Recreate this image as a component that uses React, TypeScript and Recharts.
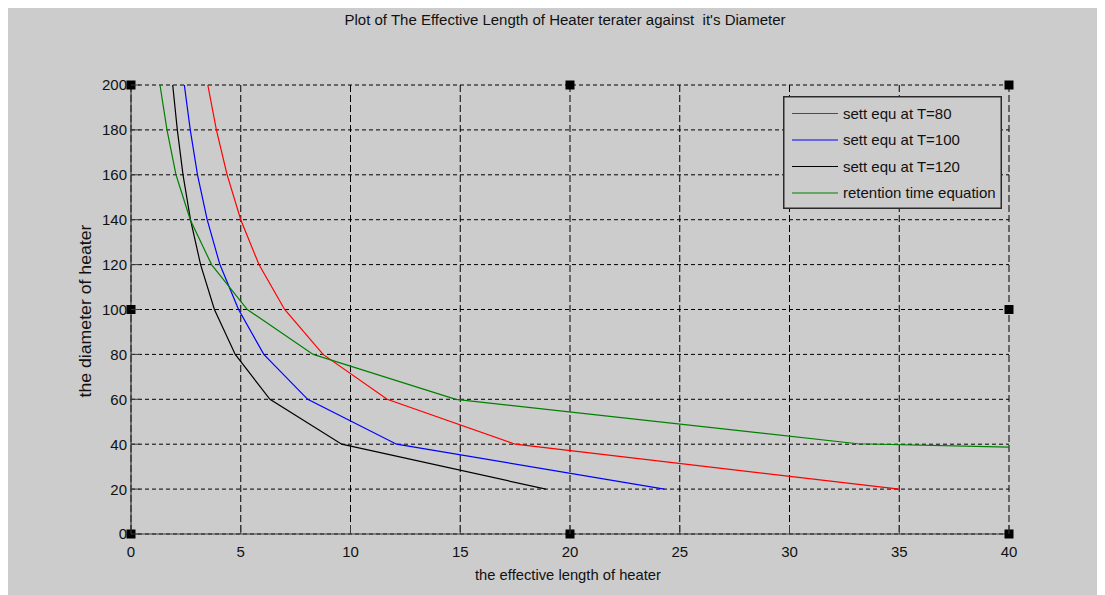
import React from "react";
import {
  ComposedChart,
  Line,
  XAxis,
  YAxis,
  CartesianGrid,
  Legend,
  ReferenceDot,
} from "recharts";

// ---- data ----
const xTicks = [0, 5, 10, 15, 20, 25, 30, 35, 40];
const yTicks = [0, 20, 40, 60, 80, 100, 120, 140, 160, 180, 200];

const diameterSteps = [200, 180, 160, 140, 120, 100, 80, 60, 40, 20];

const sett80Length = [3.5, 3.89, 4.38, 5.0, 5.83, 7.0, 8.75, 11.67, 17.5, 35.0];
const sett100Length = [2.43, 2.7, 3.03, 3.47, 4.05, 4.9, 6.05, 8.05, 12.1, 24.3];
const sett120Length = [1.9, 2.11, 2.37, 2.71, 3.17, 3.8, 4.75, 6.33, 9.6, 18.9];

const retentionLength = [1.32, 1.64, 2.05, 2.7, 3.67, 5.3, 8.3, 14.8, 33.1, 40];
const retentionDiameter = [200, 180, 160, 140, 120, 100, 80, 60, 40.2, 38.7];

const markerX = [0, 20, 40, 0, 40, 0, 20, 40];
const markerY = [0, 0, 0, 100, 100, 200, 200, 200];

const seriesNames = [
  "sett equ at T=80",
  "sett equ at T=100",
  "sett equ at T=120",
  "retention time equation",
];
const seriesColors = ["#ff0000", "#0000ff", "#000000", "#008000"];

const titleText = "Plot of The Effective Length of Heater terater against  it's Diameter";
const xLabelText = "the effective length of heater";
const yLabelText = "the diameter of heater";

const toPoints = (xs: number[], ys: number[]) => xs.map((x, i) => ({ x, y: ys[i] }));

const seriesData = [
  toPoints(sett80Length, diameterSteps),
  toPoints(sett100Length, diameterSteps),
  toPoints(sett120Length, diameterSteps),
  toPoints(retentionLength, retentionDiameter),
];

const markers = markerX.map((x, i) => ({ x, y: markerY[i] }));

const FONT = "'Liberation Sans', Arial, sans-serif";
const TEXT = "#111111";
const AXIS = "#3a3a3a";

const LeftTick = (props: any) => {
  const { x, y, payload } = props;
  const ax = x + 4;
  return (
    <g>
      <line x1={ax} x2={ax + 9} y1={y} y2={y} stroke={AXIS} strokeWidth={1} />
      <text x={x} y={y} dy="0.36em" textAnchor="end" fontSize={15} fontFamily={FONT} fill={TEXT}>
        {payload.value}
      </text>
    </g>
  );
};

const BottomTick = (props: any) => {
  const { x, y, payload } = props;
  const ay = y - 12;
  return (
    <g>
      <line x1={x} x2={x} y1={ay} y2={ay - 9} stroke={AXIS} strokeWidth={1} />
      <text x={x} y={y} dy="0.71em" textAnchor="middle" fontSize={15} fontFamily={FONT} fill={TEXT}>
        {payload.value}
      </text>
    </g>
  );
};

const TopTick = (props: any) => {
  const { x, y } = props;
  return <line x1={x} x2={x} y1={y} y2={y + 9} stroke={AXIS} strokeWidth={1} />;
};

const RightTick = (props: any) => {
  const { x, y } = props;
  return <line x1={x - 9} x2={x} y1={y} y2={y} stroke={AXIS} strokeWidth={1} />;
};

const SquareMarker = (props: any) => {
  const { cx, cy } = props;
  return <rect x={cx - 4.5} y={cy - 4.5} width={9} height={9} fill="#000" />;
};

const LegendBox = (props: any) => {
  const payload = [...(props.payload || [])].sort(
    (a: any, b: any) => seriesNames.indexOf(a.value) - seriesNames.indexOf(b.value)
  );
  return (
    <svg width={219} height={113} style={{ display: "block" }}>
      <rect x={0.75} y={0.75} width={217.5} height={111.5} fill="#cccccc" stroke="#2a2a2a" strokeWidth={1.5} />
      {payload.map((p: any, i: number) => {
        const cy = 17.5 + i * 26.5;
        return (
          <g key={i}>
            <line x1={9} x2={55} y1={cy} y2={cy} stroke={p.color} strokeWidth={1.2} />
            <text x={60} y={cy} dy="0.36em" fontSize={15} fontFamily={FONT} fill={TEXT}>
              {p.value}
            </text>
          </g>
        );
      })}
    </svg>
  );
};

const XLabel = (props: any) => {
  const vb = props.viewBox || {};
  const cx = vb.x + vb.width / 2 - 2;
  const cy = vb.y + 45.5;
  return (
    <text x={cx} y={cy} textAnchor="middle" fontSize={15} fontFamily={FONT} fill={TEXT}
      textLength={186} lengthAdjust="spacingAndGlyphs">
      {xLabelText}
    </text>
  );
};

const YLabel = (props: any) => {
  const vb = props.viewBox || {};
  const cx = vb.x + 14;
  const cy = vb.y + vb.height / 2 + 1.5;
  return (
    <text x={cx} y={cy} textAnchor="middle" dominantBaseline="central" fontSize={17}
      fontFamily={FONT} fill={TEXT} transform={`rotate(-90, ${cx}, ${cy})`}
      textLength={173} lengthAdjust="spacingAndGlyphs">
      {yLabelText}
    </text>
  );
};

export default function App() {
  return (
    <div style={{ position: "relative", width: 1097, height: 587, background: "#cccccc" }}>
      <div style={{ position: "absolute", top: -4, left: -5, width: 1102, height: 2, background: "#c4c4c4" }} />
      <svg width={1097} height={40} style={{ position: "absolute", left: 0, top: 0 }}>
        <text x={557} y={17} textAnchor="middle" fontSize={14} fontFamily={FONT} fill={TEXT}
          textLength={441} lengthAdjust="spacingAndGlyphs" style={{ whiteSpace: "pre" }}>
          {titleText}
        </text>
      </svg>
      <ComposedChart
        width={1097}
        height={587}
        margin={{ top: 77, right: 96, bottom: 21, left: 63 }}
        style={{ position: "absolute", left: 0, top: 0 }}
      >
        <CartesianGrid horizontal={true} vertical={false} stroke="#000" strokeDasharray="4 3" strokeWidth={1} />
        <CartesianGrid horizontal={false} vertical={true} stroke="#000" strokeDasharray="7 3" strokeWidth={1} />
        <XAxis
          dataKey="x"
          type="number"
          domain={[0, 40]}
          ticks={xTicks}
          interval={0}
          height={40}
          tickSize={0}
          tickMargin={12}
          tickLine={false}
          axisLine={{ stroke: AXIS, strokeWidth: 1.2 }}
          tick={<BottomTick />}
          label={{ content: <XLabel /> }}
        />
        <XAxis
          xAxisId="top"
          orientation="top"
          dataKey="x"
          type="number"
          domain={[0, 40]}
          ticks={xTicks}
          interval={0}
          height={0}
          tickSize={0}
          tickMargin={0}
          tickLine={false}
          axisLine={false}
          tick={<TopTick />}
        />
        <YAxis
          type="number"
          domain={[0, 200]}
          ticks={yTicks}
          interval={0}
          width={60}
          tickSize={0}
          tickMargin={4}
          tickLine={false}
          axisLine={{ stroke: AXIS, strokeWidth: 1.2 }}
          tick={<LeftTick />}
          label={{ content: <YLabel /> }}
        />
        <YAxis
          yAxisId="right"
          orientation="right"
          type="number"
          domain={[0, 200]}
          ticks={yTicks}
          interval={0}
          width={0}
          tickSize={0}
          tickMargin={0}
          tickLine={false}
          axisLine={false}
          tick={<RightTick />}
        />
        {seriesData.map((d, i) => (
          <Line
            key={seriesNames[i]}
            data={d}
            dataKey="y"
            name={seriesNames[i]}
            type="linear"
            stroke={seriesColors[i]}
            strokeWidth={1.2}
            dot={false}
            activeDot={false}
            isAnimationActive={false}
          />
        ))}
        {markers.map((m, i) => (
          <ReferenceDot key={i} x={m.x} y={m.y} r={4} ifOverflow="visible" shape={<SquareMarker />} />
        ))}
        <Legend
          layout="vertical"
          align="center"
          verticalAlign="middle"
          content={<LegendBox />}
          wrapperStyle={{ left: 775, top: 88, width: 219, height: 113 }}
        />
      </ComposedChart>
    </div>
  );
}
